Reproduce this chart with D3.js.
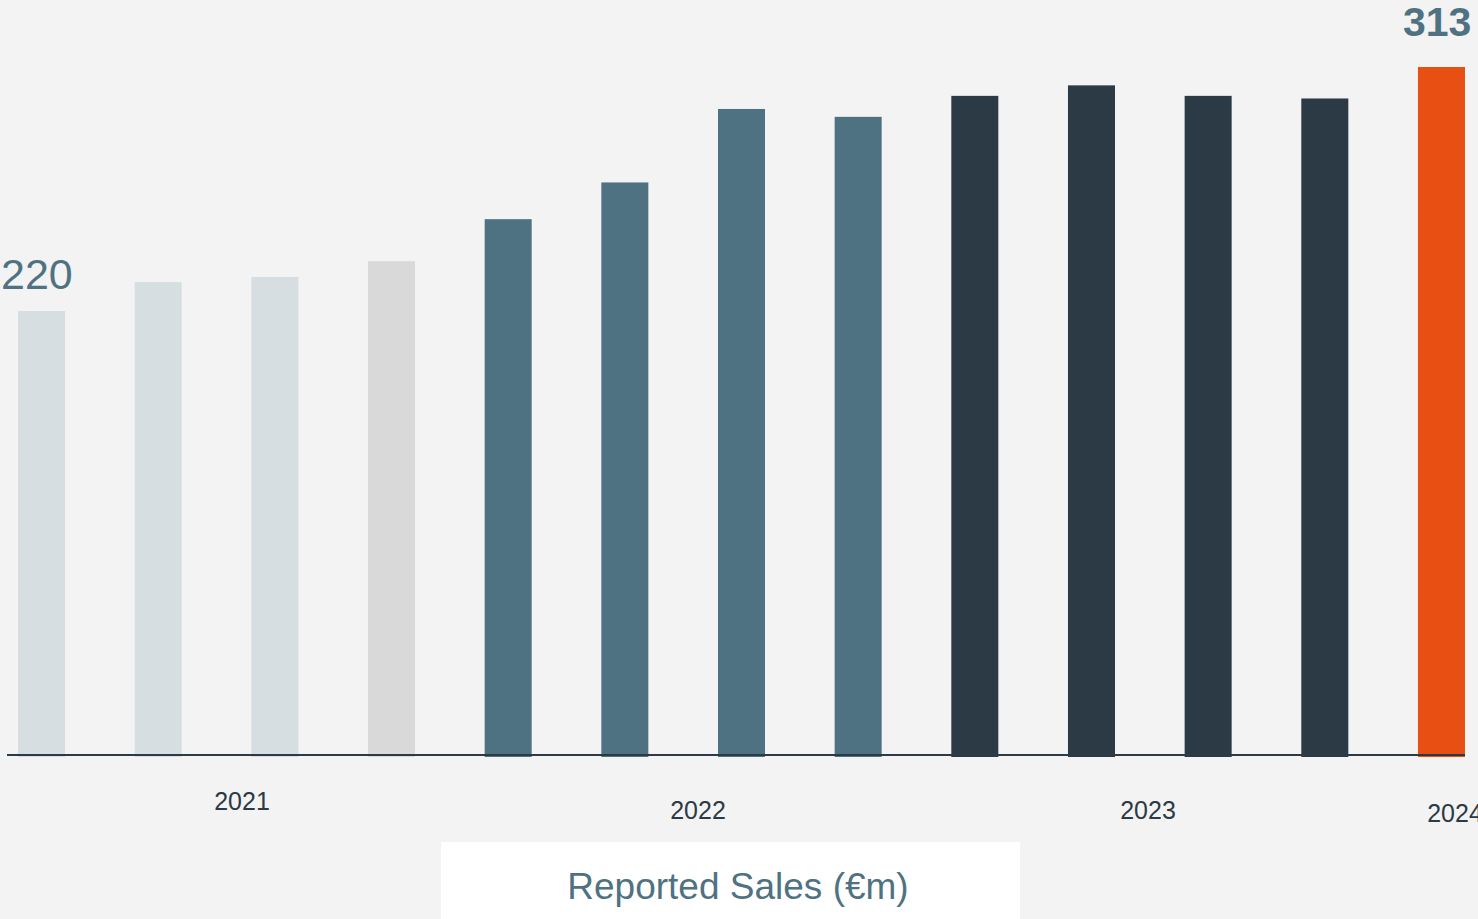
<!DOCTYPE html>
<html>
<head>
<meta charset="utf-8">
<script src="https://cdn.jsdelivr.net/npm/d3@7"></script>
<style>
  html, body { margin: 0; padding: 0; background: #f3f3f4; overflow: hidden; }
  svg { display: block; font-family: "Liberation Sans", Arial, sans-serif; }
</style>
</head>
<body>
<div id="chart"></div>
<script>
// Datos: ventas trimestrales
const quarters = ["Q1 21", "Q2 21", "Q3 21", "Q4 21", "Q1 22", "Q2 22", "Q3 22", "Q4 22",
                  "Q1 23", "Q2 23", "Q3 23", "Q4 23", "Q1 24"];
const sales = [220, 231, 233, 239, 255, 269, 297, 294, 302, 306, 302, 301, 313];
const groups = ["a", "a", "a", "b", "c", "c", "c", "c", "d", "d", "d", "d", "e"];
const years = [
    { label: "2021", x: 242, y: 810 },
    { label: "2022", x: 698, y: 819 },
    { label: "2023", x: 1148, y: 819 },
    { label: "2024", x: 1455, y: 822 }
];
const title = "Reported Sales (€m)";

function createChart() {
    const width = 1478;
    const height = 919;

    const svg = d3.select("#chart").append("svg")
        .attr("width", width)
        .attr("height", height)
        .attr("viewBox", [0, 0, width, height]);

    svg.append("rect")
        .attr("width", width)
        .attr("height", height)
        .attr("fill", "#f3f3f4");

    // Escalas
    const x = d3.scaleBand()
        .domain(quarters)
        .range([-16.8, 1499.8])
        .paddingInner(0.597)
        .paddingOuter(0.2985);

    const y = d3.scaleLinear()
        .domain([50, 313])
        .range([757, 67]);

    const color = d3.scaleOrdinal()
        .domain(["a", "b", "c", "d", "e"])
        .range(["#d6dee1", "#d9d9d9", "#4f7282", "#2b3a44", "#e84f12"]);

    // Barras
    svg.append("g")
        .selectAll("rect")
        .data(sales)
        .join("rect")
        .attr("x", (d, i) => x(quarters[i]))
        .attr("y", d => y(d))
        .attr("width", x.bandwidth())
        .attr("height", d => y(50) - y(d))
        .attr("fill", (d, i) => color(groups[i]));

    // Línea base
    svg.append("line")
        .attr("x1", 7)
        .attr("x2", x(quarters[12]) + x.bandwidth())
        .attr("y1", 755)
        .attr("y2", 755)
        .attr("stroke", "#2b3a44")
        .attr("stroke-width", 2);

    // Etiquetas de años
    svg.append("g")
        .selectAll("text")
        .data(years)
        .join("text")
        .attr("x", d => d.x)
        .attr("y", d => d.y)
        .attr("text-anchor", "middle")
        .attr("font-size", 25)
        .attr("fill", "#2b3a44")
        .text(d => d.label);

    // Valores primero y último
    svg.append("text")
        .attr("x", 1)
        .attr("y", 289)
        .attr("font-size", 43)
        .attr("fill", "#4f7282")
        .text(sales[0]);

    svg.append("text")
        .attr("x", 1403)
        .attr("y", 36)
        .attr("font-size", 41)
        .attr("font-weight", "bold")
        .attr("fill", "#4f7282")
        .text(sales[12]);

    // Caja del título
    svg.append("rect")
        .attr("x", 441)
        .attr("y", 842)
        .attr("width", 579)
        .attr("height", 80)
        .attr("fill", "#ffffff");

    svg.append("text")
        .attr("x", 738)
        .attr("y", 899)
        .attr("text-anchor", "middle")
        .attr("font-size", 37)
        .attr("fill", "#4f7282")
        .text(title);
}

document.addEventListener("DOMContentLoaded", createChart);
</script>
</body>
</html>
